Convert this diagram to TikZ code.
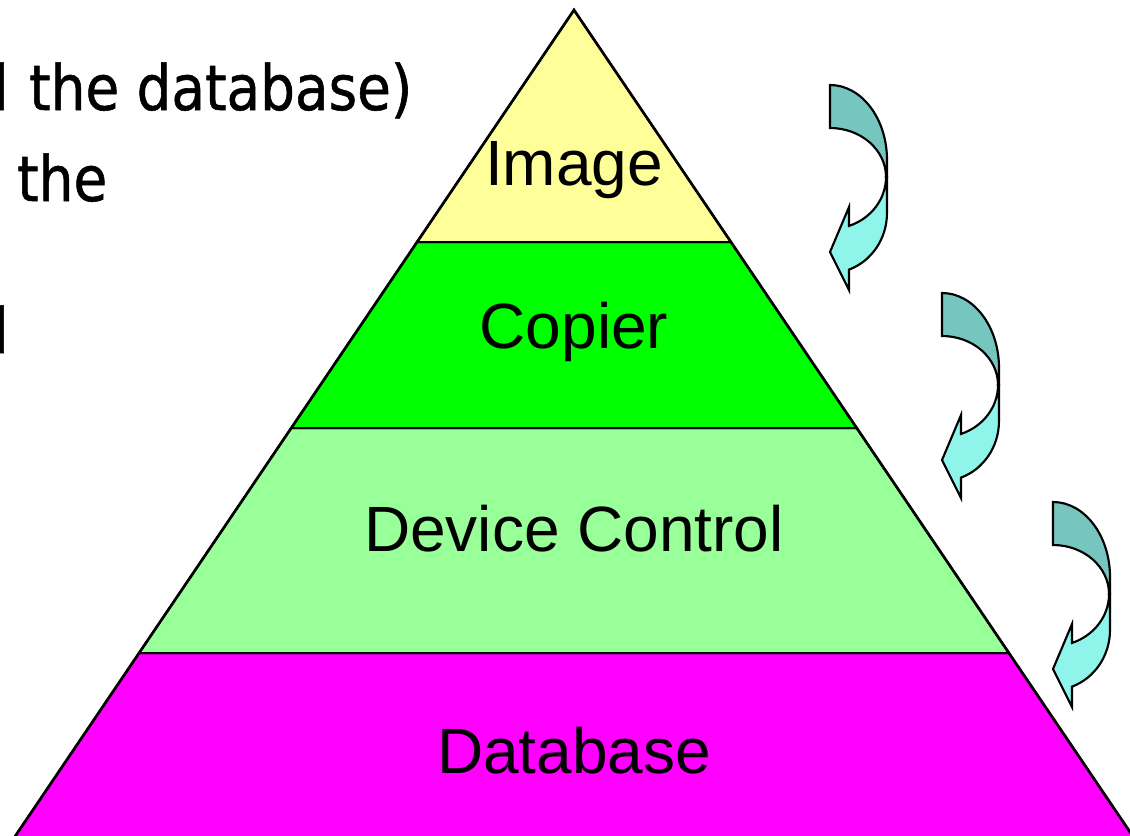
\documentclass[tikz,border=0pt]{standalone}
\usepackage{fontspec}
\setmainfont{Liberation Sans}
\newfontfamily\bodyfont[FakeStretch=0.875, FakeBold=0.9]{DejaVu Sans}
\definecolor{layerimage}{HTML}{FFFF99}
\definecolor{layercopier}{HTML}{00FF00}
\definecolor{layerdevice}{HTML}{99FF99}
\definecolor{layerdb}{HTML}{FF00FF}
\definecolor{arrowback}{HTML}{76C5BE}
\definecolor{arrowfront}{HTML}{8FF5EB}
\tikzset{
  layer/.style={draw=black, line width=1.5pt, line join=miter},
  outline/.style={draw=black, line width=2pt, line join=miter},
  layerlabel/.style={font=\fontsize{48}{56}\selectfont, text=black, inner sep=0pt, anchor=base},
  bodytext/.style={font=\bodyfont\fontsize{47}{56}\selectfont, text=black, inner sep=0pt},
  bandback/.style={fill=arrowback, draw=black, line width=1.6pt, line join=miter},
  bandfront/.style={fill=arrowfront, draw=black, line width=1.6pt, line join=miter},
}
% curved arrow turning down and to the left; local origin at its top-left corner
\newcommand{\turnarrow}[1]{%
  \begin{scope}[shift={#1}]
    \filldraw[bandback] (0,0)
      arc[start angle=-90, end angle=0, x radius=57, y radius=75]
      -- (57,92) -- (56,92)
      arc[start angle=0, end angle=-90, x radius=56, y radius=49]
      -- cycle;
    \filldraw[bandfront] (56,92)
      arc[start angle=0, end angle=70.2, x radius=56, y radius=52]
      -- (19,122) -- (0,167) -- (19,205) -- (19,184.6)
      arc[start angle=70.5, end angle=0, x radius=57, y radius=60]
      -- (57,92) -- cycle;
  \end{scope}}
\begin{document}
\begin{tikzpicture}[x=0.75pt, y=-0.75pt]
\useasboundingbox (0,0) rectangle (1130,835);
\clip (0,0) rectangle (1130,835);

% text running in from the left
\node[bodytext, anchor=base east] (txtA) at (9,110) {l};
\node[bodytext, anchor=base west] (txtB) at (29,110) {the database)};
\node[bodytext, anchor=base west] (txtC) at (17,201) {the};
\node[bodytext, anchor=base east] (txtD) at (9,353) {l};

% pyramid layers, bottom to top
\filldraw[layer, fill=layerdb] (139.1,653) -- (1008.9,653) -- (1138.8,845) -- (9.2,845) -- cycle;
\filldraw[layer, fill=layerdevice] (291.3,428) -- (856.7,428) -- (1008.9,653) -- (139.1,653) -- cycle;
\filldraw[layer, fill=layercopier] (417.1,242) -- (730.9,242) -- (856.7,428) -- (291.3,428) -- cycle;
\filldraw[layer, fill=layerimage] (574,10) -- (730.9,242) -- (417.1,242) -- cycle;
% outer slopes of the pyramid
\draw[outline] (9.2,845) -- (574,10) -- (1138.8,845);

\node[layerlabel] (image) at (574,185) {Image};
\node[layerlabel] (copier) at (574,348) {Copier};
\node[layerlabel] (device) at (574,551) {Device Control};
\node[layerlabel] (database) at (574,773) {Database};

% downward turning arrows beside the layers
\turnarrow{(830,85)}
\turnarrow{(942,293)}
\turnarrow{(1053,502)}
\end{tikzpicture}
\end{document}
